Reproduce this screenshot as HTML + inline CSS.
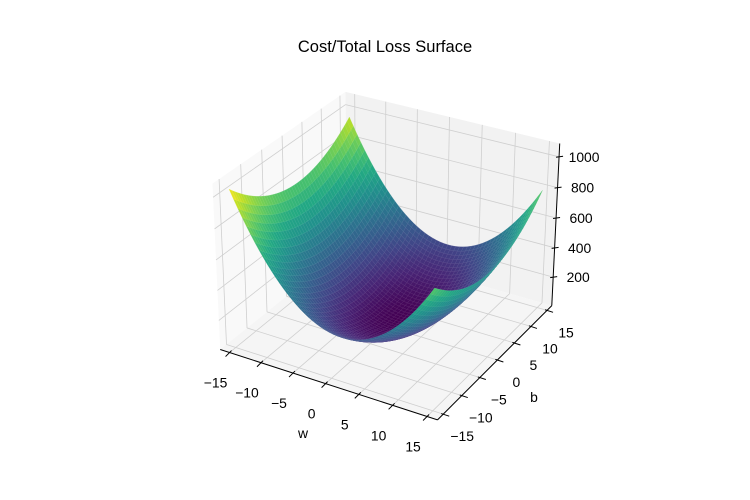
<!DOCTYPE html>
<html><head><meta charset="utf-8">
<style>
html,body{margin:0;padding:0;background:#fff;}
svg{display:block;font-family:"Liberation Sans","DejaVu Sans",sans-serif;}
</style></head>
<body>
<svg id="chart" width="750" height="500" viewBox="0 0 750 500" xmlns="http://www.w3.org/2000/svg">
<rect x="0" y="0" width="750" height="500" fill="#fff"/>
<text x="385" y="52" font-size="16.5" text-anchor="middle" fill="#000">Cost/Total Loss Surface</text>
<g id="panes"></g>
<g id="grid"></g>
<g id="axes"></g>
<g id="surface"></g>
<text x="303" y="438" font-size="13.9" text-anchor="middle">w</text>
<text x="534" y="402" font-size="13.9" text-anchor="middle">b</text>
</svg>
<script>
// training data defining the cost surface J(w,b) = mean((w*x + b - y)^2)
const x_train = [-2, -1, 1, 2.2];
const y_train = [4.37, -5.54, -7.67, 11.25];
// tick values
const wTicks = [-15, -10, -5, 0, 5, 10, 15];
const bTicks = [-15, -10, -5, 0, 5, 10, 15];
const zTicks = [200, 400, 600, 800, 1000];
// data domain
const wRange = [-15, 15];
const bRange = [-15, 15];
const gridN = 50;

const XL = [-16.5, 16.5], YL = [-16.5, 16.5], ZL = [3, 1085];
const NS = 'http://www.w3.org/2000/svg';

const corners = [
  [[0,0,0],[220.5,350]],[[1,0,0],[437,420]],[[1,1,0],[552,305]],
  [[0,0,1],[212.7,183]],[[1,1,1],[560,144]],[[0,1,1],[345,92]]
];
function solve(A,b){const n=b.length;for(let i=0;i<n;i++){let p=i;for(let r=i+1;r<n;r++)if(Math.abs(A[r][i])>Math.abs(A[p][i]))p=r;[A[i],A[p]]=[A[p],A[i]];[b[i],b[p]]=[b[p],b[i]];for(let r=0;r<n;r++){if(r===i)continue;const f=A[r][i]/A[i][i];for(let c=i;c<n;c++)A[r][c]-=f*A[i][c];b[r]-=f*b[i];}}return b.map((v,i)=>v/A[i][i]);}
const rows=[],rhs=[];
corners.forEach(([X,s])=>{const [x,y,z]=X,[u,v]=s;
  rows.push([x,y,z,1,0,0,0,0,-u*x,-u*y,-u*z]);rhs.push(u);
  rows.push([0,0,0,0,x,y,z,1,-v*x,-v*y,-v*z]);rhs.push(v);});
const ATA=[],ATb=[];
for(let i=0;i<11;i++){ATA.push([]);let s=0;for(let k=0;k<rows.length;k++)s+=rows[k][i]*rhs[k];ATb.push(s);
  for(let j=0;j<11;j++){let t=0;for(let k=0;k<rows.length;k++)t+=rows[k][i]*rows[k][j];ATA[i].push(t);}}
const P=solve(ATA,ATb);
function projN(x,y,z){const d=P[8]*x+P[9]*y+P[10]*z+1;return [(P[0]*x+P[1]*y+P[2]*z+P[3])/d,(P[4]*x+P[5]*y+P[6]*z+P[7])/d];}
const nx=w=>(w-XL[0])/(XL[1]-XL[0]), ny=b=>(b-YL[0])/(YL[1]-YL[0]), nz=z=>(z-ZL[0])/(ZL[1]-ZL[0]);
function proj(w,b,z){return projN(nx(w),ny(b),nz(z));}
function depthKey(w,b,z){const xb=(nx(w)-.5)*4,yb=(ny(b)-.5)*4,zb=(nz(z)-.5)*3;return 0.433*xb-0.75*yb+0.5*zb;}

function cost(w,b){let s=0;for(let i=0;i<x_train.length;i++){const e=w*x_train[i]+b-y_train[i];s+=e*e;}return s/x_train.length;}

const vir=['#440154','#482475','#414487','#355f8d','#2a788e','#21918c','#22a884','#44bf70','#7ad151','#bddf26','#fde725'];
function hex(h){return [parseInt(h.substr(1,2),16),parseInt(h.substr(3,2),16),parseInt(h.substr(5,2),16)];}
function viridisRGB(t){t=Math.max(0,Math.min(1,t));const f=t*10,i=Math.min(9,Math.floor(f)),r=f-i;const a=hex(vir[i]),c=hex(vir[i+1]);
  return a.map((v,k)=>Math.round(v+(c[k]-v)*r));}

function mk(tag,attrs,parent){const e=document.createElementNS(NS,tag);for(const k in attrs)e.setAttribute(k,attrs[k]);parent.appendChild(e);return e;}
const pts=a=>a.map(p=>p[0].toFixed(2)+','+p[1].toFixed(2)).join(' ');

const gp=document.getElementById('panes');
let e;
e=mk('polygon',{points:pts([projN(0,0,0),projN(0,1,0),projN(0,1,1),projN(0,0,1)]),fill:'#f9f9f9'},gp);

e=mk('polygon',{points:pts([projN(0,1,0),projN(1,1,0),projN(1,1,1),projN(0,1,1)]),fill:'#f2f2f2'},gp);

e=mk('polygon',{points:pts([projN(0,0,0),projN(1,0,0),projN(1,1,0),projN(0,1,0)]),fill:'#f5f5f5'},gp);


const gg=document.getElementById('grid');
function gline(a,b,name){const l=mk('line',{x1:a[0],y1:a[1],x2:b[0],y2:b[1],stroke:'#cfcfcf','stroke-width':0.8},gg);
  }
wTicks.forEach(w=>{gline(proj(w,YL[0],ZL[0]),proj(w,YL[1],ZL[0]),'grid-w-floor');gline(proj(w,YL[1],ZL[0]),proj(w,YL[1],ZL[1]),'grid-w-back');});
bTicks.forEach(b=>{gline(proj(XL[0],b,ZL[0]),proj(XL[1],b,ZL[0]),'grid-b-floor');gline(proj(XL[0],b,ZL[0]),proj(XL[0],b,ZL[1]),'grid-b-left');});
zTicks.forEach(z=>{gline(proj(XL[0],YL[0],z),proj(XL[0],YL[1],z),'grid-z-left');gline(proj(XL[0],YL[1],z),proj(XL[1],YL[1],z),'grid-z-back');});

const ga=document.getElementById('axes');
function aline(a,b,name){const l=mk('line',{x1:a[0],y1:a[1],x2:b[0],y2:b[1],stroke:'#000','stroke-width':1},ga);
  }
aline(projN(0,0,0),projN(1,0,0),'x-axis-line');
aline(projN(1,0,0),projN(1,1,0),'y-axis-line');
aline(projN(1,1,0),projN(1,1,1),'z-axis-line');
function label(x,y,txt,name,anchor){const t=mk('text',{x:x,y:y,'font-size':13.9,'text-anchor':anchor||'middle'},ga);t.textContent=txt;
  }
const fmt=v=>v<0?'\u2212'+Math.abs(v):String(v);
wTicks.forEach(w=>{const p=proj(w,YL[0],ZL[0]);
  aline([p[0]+2,p[1]-2],[p[0]-4,p[1]+4],'x-tick');
  label(p[0]-14,p[1]+35,fmt(w),'x-tick-label');});
bTicks.forEach(b=>{const p=proj(XL[1],b,ZL[0]);
  aline([p[0]-2,p[1]-0.6],[p[0]+6,p[1]+2],'y-tick');
  label(p[0]+19,p[1]+27,fmt(b),'y-tick-label');});
zTicks.forEach(z=>{const p=proj(XL[1],YL[1],z);
  aline([p[0]-3,p[1]+0.5],[p[0]+4,p[1]-0.5],'z-tick');
  label(p[0]+25,p[1]+5,String(z),'z-tick-label');});

const gs=document.getElementById('surface');
const W=[],B=[];
for(let i=0;i<gridN;i++){W.push(wRange[0]+(wRange[1]-wRange[0])*i/(gridN-1));B.push(bRange[0]+(bRange[1]-bRange[0])*i/(gridN-1));}
const Z=W.map(w=>B.map(b=>cost(w,b)));
let zmin=Infinity,zmax=-Infinity;Z.forEach(r=>r.forEach(v=>{zmin=Math.min(zmin,v);zmax=Math.max(zmax,v);}));
const faces=[];
for(let i=0;i<gridN-1;i++)for(let j=0;j<gridN-1;j++){
  const zs=[Z[i][j],Z[i+1][j],Z[i+1][j+1],Z[i][j+1]];
  const zc=(zs[0]+zs[1]+zs[2]+zs[3])/4;
  const wc=(W[i]+W[i+1])/2,bc=(B[j]+B[j+1])/2;
  faces.push({i,j,zs,zc,key:depthKey(wc,bc,zc)});
}
faces.sort((a,b)=>a.key-b.key);
faces.forEach(f=>{const {i,j,zs}=f;
  const poly=[proj(W[i],B[j],zs[0]),proj(W[i+1],B[j],zs[1]),proj(W[i+1],B[j+1],zs[2]),proj(W[i],B[j+1],zs[3])];
  const rgb=viridisRGB((f.zc-zmin)/(zmax-zmin));
  const c='rgb('+rgb.join(',')+')';
  const s='rgb('+rgb.map(v=>Math.round(v+(255-v)*0.12)).join(',')+')';
  const p=mk('polygon',{points:pts(poly),fill:c,stroke:s,'stroke-width':0.35,'stroke-linejoin':'round'},gs);
  
  
});
</script>
</body></html>
